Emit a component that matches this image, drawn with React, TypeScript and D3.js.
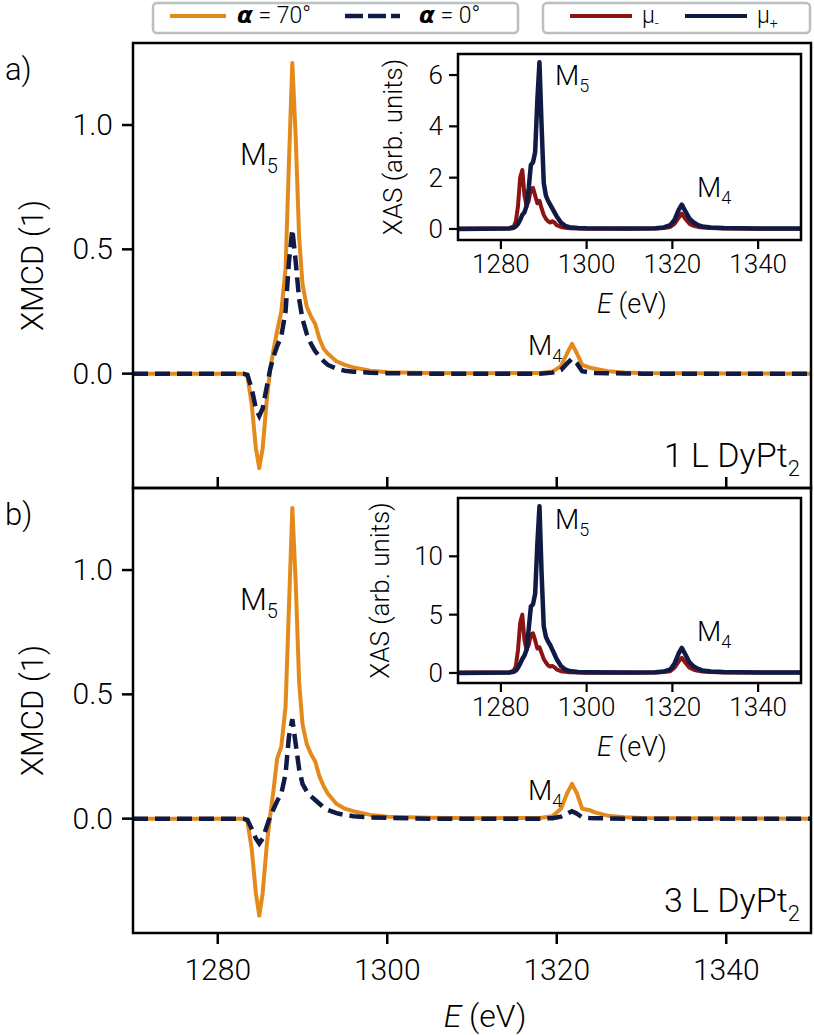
import * as d3 from "d3";

// XMCD spectra (main panels), energy in eV
const energy = [
  1270, 1282, 1283, 1283.5, 1284, 1284.5, 1284.9, 1285.3, 1285.8, 1286.2, 1286.6, 1287, 1287.5,
  1288, 1288.4, 1288.8, 1289.2, 1289.6, 1290, 1290.5, 1291, 1291.5, 1292, 1292.5, 1293, 1294,
  1295, 1296, 1298, 1300, 1305, 1310, 1318, 1319.5, 1320.5, 1321.2, 1321.8, 1322.4, 1323,
  1323.8, 1324.5, 1326, 1328, 1330, 1340, 1350,
];
const xmcd70a = [
  0, 0, 0, -0.01, -0.12, -0.3, -0.38, -0.3, -0.1, 0.02, 0.1, 0.17, 0.25,
  0.42, 0.85, 1.25, 0.95, 0.55, 0.36, 0.27, 0.23, 0.2, 0.14, 0.1, 0.08, 0.05,
  0.035, 0.025, 0.012, 0.006, 0.003, 0.002, 0.003, 0.008, 0.03, 0.08, 0.12, 0.08, 0.035,
  0.025, 0.02, 0.01, 0.005, 0.003, 0.001, 0,
];
const xmcd0a = [
  0, 0, 0, -0.005, -0.06, -0.14, -0.17, -0.14, -0.05, 0.02, 0.07, 0.11, 0.15,
  0.25, 0.45, 0.58, 0.45, 0.3, 0.22, 0.16, 0.12, 0.09, 0.07, 0.05, 0.035, 0.02,
  0.012, 0.008, 0.004, 0.002, 0, 0, 0, 0.004, 0.015, 0.04, 0.06, 0.04, 0.01,
  0.005, 0.003, 0.002, 0.001, 0, 0, 0,
];
const xmcd70b = [
  0, 0, 0, -0.01, -0.12, -0.3, -0.39, -0.3, -0.1, 0.015, 0.12, 0.24, 0.29,
  0.45, 0.85, 1.25, 0.95, 0.55, 0.38, 0.3, 0.26, 0.23, 0.17, 0.13, 0.1, 0.06,
  0.04, 0.03, 0.015, 0.008, 0.004, 0.002, 0.003, 0.01, 0.04, 0.1, 0.14, 0.1, 0.04,
  0.035, 0.025, 0.012, 0.006, 0.003, 0.001, 0,
];
const xmcd0b = [
  0, 0, 0, -0.005, -0.04, -0.08, -0.1, -0.08, -0.03, 0.01, 0.04, 0.07, 0.1,
  0.18, 0.33, 0.4, 0.3, 0.2, 0.14, 0.11, 0.09, 0.075, 0.06, 0.045, 0.035, 0.022,
  0.015, 0.01, 0.005, 0.003, 0, 0, 0, 0.002, 0.008, 0.02, 0.03, 0.02, 0.005,
  0.003, 0.002, 0.001, 0, 0, 0, 0,
];

// XAS spectra (insets)
const energyXas = [
  1270, 1282, 1283, 1283.5, 1284, 1284.5, 1285, 1285.5, 1286, 1286.5, 1287, 1287.5, 1288,
  1288.5, 1289, 1289.5, 1290, 1290.5, 1291, 1291.5, 1292, 1292.5, 1293, 1294, 1295, 1296,
  1298, 1300, 1310, 1316, 1318, 1319.5, 1320.5, 1321.5, 1322.2, 1323, 1324, 1325, 1326,
  1327, 1329, 1332, 1340, 1350,
];
const muMinusA = [
  0.02, 0.03, 0.1, 0.3, 0.9, 2.0, 2.3, 1.3, 0.9, 1.1, 1.55, 1.6, 1.3,
  1.0, 1.1, 0.8, 0.55, 0.4, 0.3, 0.25, 0.3, 0.25, 0.15, 0.08, 0.05, 0.03,
  0.02, 0.01, 0.01, 0.02, 0.04, 0.08, 0.2, 0.45, 0.6, 0.4, 0.2, 0.12, 0.08,
  0.06, 0.04, 0.02, 0.01, 0.01,
];
const muPlusA = [
  0, 0.02, 0.05, 0.1, 0.2, 0.35, 0.55, 0.65, 0.9, 1.6, 2.5, 2.6, 3.0,
  5.0, 6.5, 4.0, 1.8, 1.3, 1.1, 0.95, 0.8, 0.65, 0.5, 0.25, 0.12, 0.07,
  0.04, 0.03, 0.02, 0.03, 0.06, 0.15, 0.35, 0.75, 0.95, 0.7, 0.4, 0.25, 0.15,
  0.1, 0.06, 0.04, 0.02, 0.02,
];
const muMinusB = [
  0.03, 0.05, 0.2, 0.6, 2.0, 4.3, 5.0, 2.8, 2.0, 2.4, 3.3, 3.4, 2.8,
  2.1, 2.2, 1.7, 1.2, 0.9, 0.65, 0.55, 0.6, 0.5, 0.3, 0.15, 0.1, 0.06,
  0.04, 0.02, 0.02, 0.04, 0.08, 0.15, 0.45, 1.0, 1.3, 0.9, 0.45, 0.28, 0.18,
  0.13, 0.08, 0.05, 0.03, 0.03,
];
const muPlusB = [
  0, 0.04, 0.1, 0.2, 0.45, 0.8, 1.2, 1.5, 2.0, 3.8, 5.7, 5.9, 6.8,
  11.0, 14.3, 8.5, 4.0, 3.1, 2.7, 2.4, 2.0, 1.6, 1.2, 0.6, 0.3, 0.16,
  0.08, 0.06, 0.04, 0.06, 0.12, 0.3, 0.8, 1.7, 2.15, 1.6, 0.9, 0.55, 0.35,
  0.22, 0.12, 0.08, 0.04, 0.04,
];

const energyTicks = [1280, 1300, 1320, 1340];
const xmcdTicks = [0, 0.5, 1.0];
const xasTicksA = [0, 2, 4, 6];
const xasTicksB = [0, 5, 10];

const ORANGE = "#e48a1c";
const NAVY = "#0f1a45";
const RED = "#8a1414";
const FONT = "Roboto, 'Liberation Sans', sans-serif";

const x = d3.scaleLinear().domain([1270, 1350]).range([133, 811]);
const xi = d3.scaleLinear().domain([1270, 1350]).range([458, 801]);

type Pt = [number, number];
const pts = (xs: number[], ys: number[]): Pt[] => xs.map((e, i) => [e, ys[i]]);

// text with a lowered subscript, e.g. M_5 or DyPt_2
const Sub = ({ x, y, main, sub, size, subSize, anchor = "start" }: any) => (
  <text x={x} y={y} fontSize={size} textAnchor={anchor} fontFamily={FONT} fontWeight={300}>
    {main}
    <tspan fontSize={subSize} dy={size * 0.25}>{sub}</tspan>
  </text>
);

const Panel = ({ top, bottom, y70, y0, tag, sample, showBottom }: any) => {
  const y = d3.scaleLinear().domain([-0.46, 1.33]).range([bottom, top]);
  const line = d3
    .line<Pt>()
    .x((d) => x(d[0]))
    .y((d) => y(d[1]));
  const mid = (top + bottom) / 2;
  return (
    <g>
      <path d={line(pts(energy, y70)) || ""} fill="none" stroke={ORANGE} strokeWidth={4} strokeLinejoin="round" />
      <path d={line(pts(energy, y0)) || ""} fill="none" stroke={NAVY} strokeWidth={4.5} strokeDasharray="15,7" />
      <rect x={133} y={top} width={678} height={bottom - top} fill="none" stroke="#000" strokeWidth={2.5} />
      {xmcdTicks.map((t) => (
        <g key={t}>
          <line x1={122} x2={133} y1={y(t)} y2={y(t)} stroke="#000" strokeWidth={2.5} />
          <text x={113} y={y(t) + 10} fontSize={30} textAnchor="end" fontFamily={FONT} fontWeight={300}>
            {t.toFixed(1)}
          </text>
        </g>
      ))}
      {energyTicks.map((t) =>
        showBottom ? (
          <g key={t}>
            <line x1={x(t)} x2={x(t)} y1={bottom} y2={bottom + 11} stroke="#000" strokeWidth={2.5} />
            <text x={x(t)} y={980} fontSize={30} textAnchor="middle" fontFamily={FONT} fontWeight={300}>
              {t}
            </text>
          </g>
        ) : (
          <line key={t} x1={x(t)} x2={x(t)} y1={bottom} y2={bottom - 11} stroke="#000" strokeWidth={2.5} />
        )
      )}
      <text
        transform={`translate(43,${mid}) rotate(-90)`}
        fontSize={31}
        textAnchor="middle"
        fontFamily={FONT}
        fontWeight={300}
      >
        XMCD (1)
      </text>
      <text x={5} y={top + 37} fontSize={31} fontFamily={FONT} fontWeight={300}>
        {tag}
      </text>
      <Sub x={240} y={top + 122} main="M" sub="5" size={31} subSize={20} />
      <Sub x={528} y={top + 312} main="M" sub="4" size={28} subSize={18} />
      <Sub x={800} y={bottom - 21} main={sample} sub="2" size={34} subSize={22} anchor="end" />
    </g>
  );
};

const Inset = ({ top, bottom, domain, ticks, muM, muP, labelX }: any) => {
  const y = d3.scaleLinear().domain(domain).range([bottom, top]);
  const line = d3
    .line<Pt>()
    .x((d) => xi(d[0]))
    .y((d) => y(d[1]));
  return (
    <g>
      <rect x={458} y={top} width={343} height={bottom - top} fill="#fff" />
      <path d={line(pts(energyXas, muM)) || ""} fill="none" stroke={RED} strokeWidth={4} strokeLinejoin="round" />
      <path d={line(pts(energyXas, muP)) || ""} fill="none" stroke={NAVY} strokeWidth={4.5} strokeLinejoin="round" />
      <rect x={458} y={top} width={343} height={bottom - top} fill="none" stroke="#000" strokeWidth={2.5} />
      {ticks.map((t: number) => (
        <g key={t}>
          <line x1={449} x2={458} y1={y(t)} y2={y(t)} stroke="#000" strokeWidth={2.2} />
          <text x={443} y={y(t) + 9} fontSize={26} textAnchor="end" fontFamily={FONT} fontWeight={300}>
            {t}
          </text>
        </g>
      ))}
      {energyTicks.map((t) => (
        <g key={t}>
          <line x1={xi(t)} x2={xi(t)} y1={bottom} y2={bottom + 9} stroke="#000" strokeWidth={2.2} />
          <text x={xi(t)} y={bottom + 33} fontSize={26} textAnchor="middle" fontFamily={FONT} fontWeight={300}>
            {t}
          </text>
        </g>
      ))}
      <text
        transform={`translate(${labelX},${(top + bottom) / 2}) rotate(-90)`}
        fontSize={26}
        textAnchor="middle"
        fontFamily={FONT}
        fontWeight={300}
      >
        XAS (arb. units)
      </text>
      <text x={632} y={bottom + 73} fontSize={27} textAnchor="middle" fontFamily={FONT} fontWeight={300}>
        <tspan fontStyle="italic">E</tspan> (eV)
      </text>
      <Sub x={555} y={top + 31} main="M" sub="5" size={28} subSize={18} />
      <Sub x={697} y={top + 143} main="M" sub="4" size={28} subSize={18} />
    </g>
  );
};

const Legend = () => (
  <g fontFamily={FONT} fontWeight={300}>
    <rect x={153} y={3} width={365} height={30} rx={4} fill="#fff" stroke="#b9c0c0" strokeWidth={2.5} />
    <line x1={170} x2={226} y1={16} y2={16} stroke={ORANGE} strokeWidth={4} />
    <text x={237} y={23} fontSize={23}>
      <tspan fontFamily="'DejaVu Sans'" fontStyle="italic" fontWeight="bold">α</tspan> = 70°
    </text>
    <line x1={345} x2={400} y1={16} y2={16} stroke={NAVY} strokeWidth={4.5} strokeDasharray="18,5" />
    <text x={419} y={23} fontSize={23}>
      <tspan fontFamily="'DejaVu Sans'" fontStyle="italic" fontWeight="bold">α</tspan> = 0°
    </text>
    <rect x={543} y={3} width={267} height={30} rx={4} fill="#fff" stroke="#b9c0c0" strokeWidth={2.5} />
    <line x1={570} x2={632} y1={16} y2={16} stroke={RED} strokeWidth={4} />
    <text x={642} y={23} fontSize={23}>
      μ<tspan fontSize={14} dy={5}>-</tspan>
    </text>
    <line x1={685} x2={747} y1={16} y2={16} stroke={NAVY} strokeWidth={4} />
    <text x={757} y={23} fontSize={23}>
      μ<tspan fontSize={14} dy={5}>+</tspan>
    </text>
  </g>
);

export default function App() {
  return (
    <svg width={814} height={1035} style={{ position: "absolute", left: 0, top: 0, background: "#fff" }}>
      <Panel top={43} bottom={488} y70={xmcd70a} y0={xmcd0a} tag="a)" sample="1 L DyPt" showBottom={false} />
      <Panel top={488} bottom={933} y70={xmcd70b} y0={xmcd0b} tag="b)" sample="3 L DyPt" showBottom={true} />
      <Inset top={54} bottom={240} domain={[-0.43, 6.82]} ticks={xasTicksA} muM={muMinusA} muP={muPlusA} labelX={402} />
      <Inset top={498} bottom={683} domain={[-0.86, 15.0]} ticks={xasTicksB} muM={muMinusB} muP={muPlusB} labelX={389} />
      <text x={485} y={1027} fontSize={32} textAnchor="middle" fontFamily={FONT} fontWeight={300}>
        <tspan fontStyle="italic">E</tspan> (eV)
      </text>
      <Legend />
    </svg>
  );
}
